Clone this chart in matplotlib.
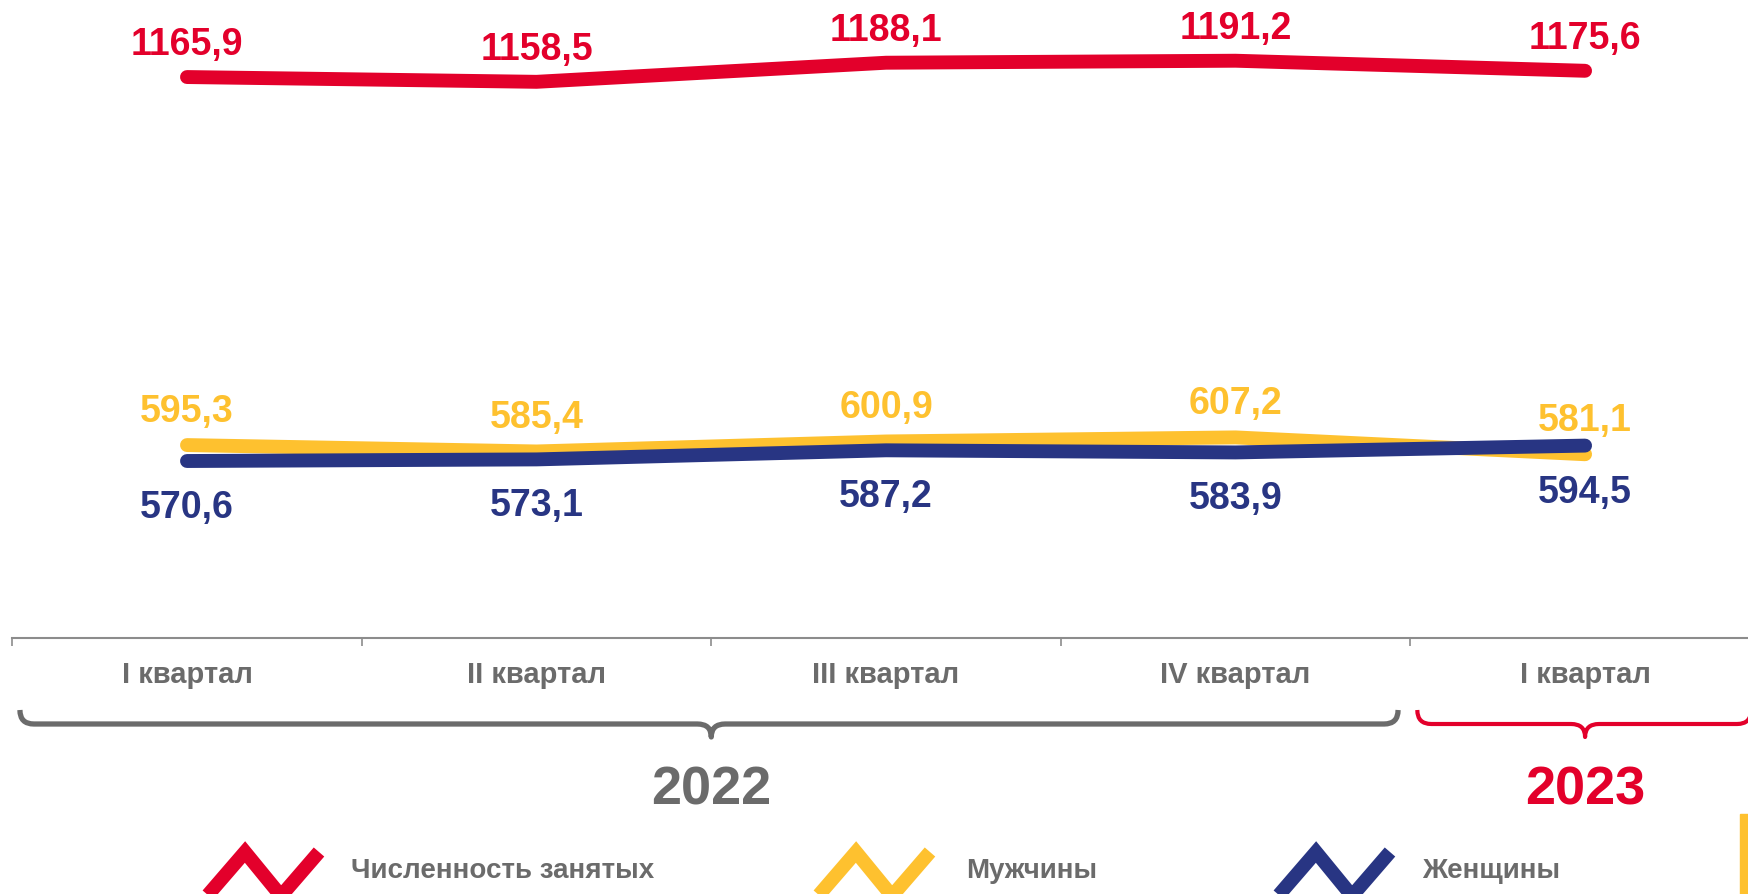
import matplotlib
matplotlib.use('Agg')
import matplotlib.pyplot as plt
from matplotlib.path import Path
from matplotlib.patches import PathPatch, Rectangle
from matplotlib.lines import Line2D
from matplotlib.transforms import blended_transform_factory

# data
QUARTERS = ['I квартал', 'II квартал', 'III квартал', 'IV квартал', 'I квартал']
YEARS = ['2022', '2023']
YEAR_SPANS = [(0, 3), (4, 4)]
TOTAL = [1165.9, 1158.5, 1188.1, 1191.2, 1175.6]
MEN = [595.3, 585.4, 600.9, 607.2, 581.1]
WOMEN = [570.6, 573.1, 587.2, 583.9, 594.5]
SERIES_NAMES = ['Численность занятых', 'Мужчины', 'Женщины']

RED = '#e3002b'
YELLOW = '#fec12f'
BLUE = '#283583'
GRAY = '#6b6b6b'
BOLD = ['Liberation Sans', 'DejaVu Sans']

W, H = 1749, 895
fig = plt.figure(figsize=(W / 100, H / 100), dpi=100)
axis_px = 639
ax = fig.add_axes([0, 1 - axis_px / H, 1, axis_px / H])
ax.set_xlim(-0.535, 4.469)
ax.set_ylim(296.2, 1286.9)
for s in ['top', 'left', 'right']:
    ax.spines[s].set_visible(False)
ax.spines['bottom'].set_color('#8c8c8c')
ax.spines['bottom'].set_linewidth(1.5)
ax.spines['bottom'].set_bounds(-0.5, 4.469)
ax.set_yticks([])
ax.set_xticks([i - 0.5 for i in range(len(QUARTERS))])
ax.set_xticklabels([])
ax.tick_params(axis='x', which='major', length=6, width=1.2, color='#8c8c8c', direction='out')
ax.set_xticks(range(len(QUARTERS)), minor=True)
ax.set_xticklabels(QUARTERS, minor=True, family=BOLD, weight='bold', fontsize=21, color=GRAY)
ax.tick_params(axis='x', which='minor', length=0, pad=16)

x = list(range(len(QUARTERS)))


def fmt(v):
    return f'{v:.1f}'.replace('.', ',')


series = [(MEN, YELLOW, 34, 2), (WOMEN, BLUE, -46, 3), (TOTAL, RED, 33, 4)]
for vals, color, off, z in series:
    ax.plot(x, vals, color=color, lw=10, solid_capstyle='round', solid_joinstyle='round', zorder=z)
    for xi, v in zip(x, vals):
        ax.annotate(fmt(v), (xi, v), xytext=(0, off), textcoords='offset pixels',
                    ha='center', va='center', fontsize=27, weight='bold',
                    family=BOLD, color=color, annotation_clip=False)

# year braces
tr = blended_transform_factory(ax.transData, fig.transFigure)


def brace(x0, x1, xc, color, lw):
    ytop, ymid, ytip = 1 - 711 / H, 1 - 725 / H, 1 - 738 / H
    r = 0.04
    verts = [(x0, ytop), (x0, ymid), (x0 + r, ymid), (xc - r, ymid),
             (xc, ymid), (xc, ytip), (xc, ymid), (xc + r, ymid),
             (x1 - r, ymid), (x1, ymid), (x1, ytop)]
    codes = [Path.MOVETO, Path.CURVE3, Path.CURVE3, Path.LINETO,
             Path.CURVE3, Path.CURVE3, Path.CURVE3, Path.CURVE3,
             Path.LINETO, Path.CURVE3, Path.CURVE3]
    fig.add_artist(PathPatch(Path(verts, codes), fill=False, edgecolor=color, lw=lw,
                             transform=tr, capstyle='butt', joinstyle='round'))


year_colors = [GRAY, RED]
brace(-0.478, 3.465, 1.5, GRAY, 3.8)
brace(3.52, 4.475, 4.0, RED, 3.0)
for (a, b), label, c in zip(YEAR_SPANS, YEARS, year_colors):
    fig.text((a + b) / 2, 1 - 805 / H, label, transform=tr, ha='center', va='baseline',
             fontsize=39, weight='bold', family=BOLD, color=c)

# legend
legend_x = [(207, 351), (818, 966), (1278, 1422)]
for (ix, tx), name, color in zip(legend_x, SERIES_NAMES, [RED, YELLOW, BLUE]):
    px = [ix, ix + 38, ix + 74, ix + 112]
    py = [897, 853, 897, 853]
    fig.add_artist(Line2D([p / W for p in px], [1 - p / H for p in py], color=color, lw=10,
                          solid_joinstyle='miter', solid_capstyle='butt', transform=fig.transFigure))
    fig.text(tx / W, 1 - 871 / H, name, ha='left', va='center', fontsize=20,
             weight='bold', family=BOLD, color=GRAY)

fig.add_artist(Rectangle((1740 / W, 0), 9 / W, 80 / H, color=YELLOW, transform=fig.transFigure))

fig.savefig('out.png', dpi=100)
